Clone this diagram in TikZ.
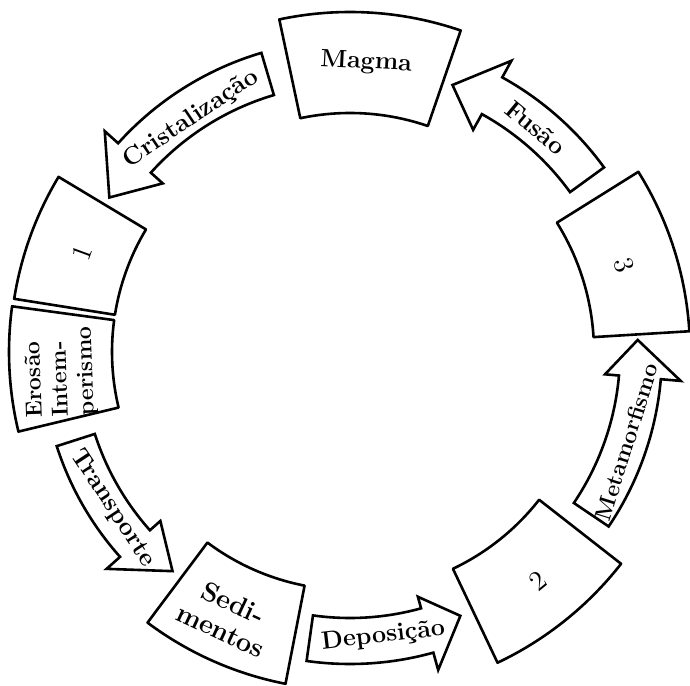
\documentclass[tikz,border=0pt]{standalone}
\usepackage{tikz}

\begin{document}
\begin{tikzpicture}[x=1pt, y=1pt,
	box/.style = {draw, line width=1.3pt, line join=round},
	flow/.style = {draw, line width=1.3pt, line join=miter},
	lbl/.style = {font=\fontsize{12.5}{13.5}\selectfont\bfseries, inner sep=0pt, align=center},
	num/.style = {font=\fontsize{14}{15}\selectfont, inner sep=0pt}]
	\useasboundingbox (-175,-166.5) rectangle (170,176);
	% rock boxes on the ring
	\draw[box] (71:170) arc[start angle=71, end angle=102, radius=170] -- (102:119.5) arc[start angle=102, end angle=71, radius=119.5] -- cycle;
	\draw[box] (149:170) arc[start angle=149, end angle=171, radius=170] -- (171:119) arc[start angle=171, end angle=149, radius=119] -- cycle;
	\draw[box] (172.3:170.5) arc[start angle=172.3, end angle=193.5, radius=170.5] -- (193.5:119) arc[start angle=193.5, end angle=172.3, radius=119] -- cycle;
	\draw[box] (233.2:169) arc[start angle=233.2, end angle=259, radius=169] -- (259:119) arc[start angle=259, end angle=233.2, radius=119] -- cycle;
	\draw[box] (295.4:172) arc[start angle=295.4, end angle=322, radius=172] -- (322:120) arc[start angle=322, end angle=295.4, radius=120] -- cycle;
	\draw[box] (3.5:170) arc[start angle=3.5, end angle=32, radius=170] -- (32:122) arc[start angle=32, end angle=3.5, radius=122] -- cycle;
	% curved arrows
	\draw[flow] (106.5:156) arc[start angle=106.5, end angle=138, radius=156] -- (138:165) -- (147.3:143) -- (138:126) -- (138:134) arc[start angle=138, end angle=106.5, radius=134] -- cycle;
	\draw[flow] (197.8:154) arc[start angle=197.8, end angle=221.7, radius=154] -- (221.7:163) -- (231:141) -- (221.7:127) -- (221.7:134) arc[start angle=221.7, end angle=197.8, radius=134] -- cycle;
	\draw[flow] (262:156) arc[start angle=262, end angle=285.5, radius=156] -- (285.5:165) -- (292.7:143) -- (285.5:127) -- (285.5:133) arc[start angle=285.5, end angle=262, radius=133] -- cycle;
	\draw[flow] (326:156) arc[start angle=326, end angle=355, radius=156] -- (355:166) -- (362.4:144) -- (355:128) -- (355:135) arc[start angle=355, end angle=326, radius=135] -- cycle;
	\draw[flow] (36:157) arc[start angle=36, end angle=61, radius=157] -- (61:166.5) -- (69:143) -- (61:127) -- (61:136) arc[start angle=61, end angle=36, radius=136] -- cycle;
	% texts
	\node[lbl, rotate=-3] (magma) at (86.8:145) {Magma};
	\node[num, rotate=70] (r1) at (159.7:143) {1};
	\node[lbl, rotate=92, align=left, font=\fontsize{11.5}{13}\selectfont\bfseries] (erosao) at (184:145) {Erosão\\Intem-\\perismo};
	\node[lbl, rotate=-25, font=\fontsize{13.5}{15}\selectfont\bfseries] (sed) at (-114.9:146) {Sedi-\\mentos};
	\node[num, rotate=39] (r2) at (-50.6:148) {2};
	\node[num, rotate=-72] (r3) at (17.6:144) {3};
	\node[lbl, rotate=34] (crist) at (124.3:141) {Cristalização};
	\node[lbl, rotate=-56.6] (transp) at (213.4:142) {Transporte};
	\node[lbl, rotate=6.7] (depos) at (-83.3:143) {Deposição};
	\node[lbl, rotate=72.6, font=\fontsize{11.5}{13}\selectfont\bfseries] (meta) at (-18:145.5) {Metamorfismo};
	\node[lbl, rotate=-39.6] (fusao) at (50.4:145.5) {Fusão};
\end{tikzpicture}
\end{document}
